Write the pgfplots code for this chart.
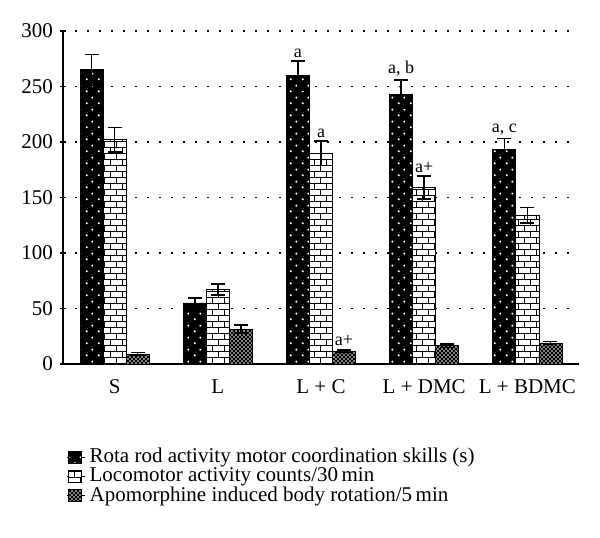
\documentclass[border=0pt]{standalone}
\usepackage{fontspec}
\setmainfont{Liberation Serif}
\usepackage{pgfplots}
\pgfplotsset{compat=1.18}
\usetikzlibrary{patterns}

\pgfdeclarepatternformonly{mywdots}{\pgfpointorigin}{\pgfpoint{6pt}{6pt}}{\pgfpoint{6pt}{6pt}}{%
  \pgfpathcircle{\pgfpoint{1.5pt}{1.5pt}}{0.6pt}%
  \pgfpathcircle{\pgfpoint{4.5pt}{4.5pt}}{0.6pt}%
  \pgfusepath{fill}}
\pgfdeclarepatternformonly{mybricks}{\pgfpoint{-0.3pt}{-0.3pt}}{\pgfpoint{6.3pt}{6.3pt}}{\pgfpoint{6pt}{6pt}}{%
  \pgfsetlinewidth{0.5pt}%
  \pgfpathmoveto{\pgfpoint{0pt}{0pt}}\pgfpathlineto{\pgfpoint{6pt}{0pt}}%
  \pgfpathmoveto{\pgfpoint{0pt}{3pt}}\pgfpathlineto{\pgfpoint{6pt}{3pt}}%
  \pgfpathmoveto{\pgfpoint{1pt}{0pt}}\pgfpathlineto{\pgfpoint{1pt}{3pt}}%
  \pgfpathmoveto{\pgfpoint{4pt}{3pt}}\pgfpathlineto{\pgfpoint{4pt}{6pt}}%
  \pgfusepath{stroke}}
\pgfdeclarepatternformonly{myxhatch}{\pgfpoint{-0.5pt}{-0.5pt}}{\pgfpoint{2.5pt}{2.5pt}}{\pgfpoint{2pt}{2pt}}{%
  \pgfsetlinewidth{0.65pt}%
  \pgfpathmoveto{\pgfpoint{0pt}{0pt}}\pgfpathlineto{\pgfpoint{2pt}{2pt}}%
  \pgfpathmoveto{\pgfpoint{0pt}{2pt}}\pgfpathlineto{\pgfpoint{2pt}{0pt}}%
  \pgfusepath{stroke}}

\pgfplotstableread{
x  rota  rotaerr  loco  locoerr  apo  apoerr
0  265   14       202   11       9    1.5
1  55    4.5      67    5        31.5 3.5
2  260   13       190   11       11.5 1.2
3  243   13       159   10.5     16.5 1.5
4  193   10       134   7        19   1.5
}\datatable

\begin{document}
\begin{tikzpicture}
\begin{axis}[
  at={(0,0)}, anchor=south west,
  scale only axis,
  width=258pt, height=166.5pt,
  ybar=0pt, bar width=0.223,
  xmin=-0.5, xmax=4.5,
  ymin=0, ymax=300,
  ytick={0,50,...,300},
  xtick={0,...,4},
  xticklabels={S, L, L + C, L + DMC, L + BDMC},
  tick label style={font=\fontsize{10.5}{12}\selectfont},
  x tick label style={yshift=-3pt},
  extra x ticks={0.5,1.5,2.5,3.5,4.5},
  extra x tick labels={},
  extra x tick style={major tick length=3pt, tick align=outside, xmajorgrids=false},
  tick align=outside,
  major tick length=3pt,
  tick style={black, line width=0.75pt},
  xtick style={draw=none},
  axis x line=bottom, axis y line=left,
  axis line style={-, line width=0.75pt},
  ymajorgrids,
  grid style={black, line width=0.8pt, dash pattern=on 0.8pt off 5.2pt},
  /pgf/number format/assume math mode=true,
  error bars/y dir=both, error bars/y explicit,
  error bars/error bar style={line width=0.75pt, black},
  error bars/error mark options={rotate=90, mark size=3.5pt, line width=0.75pt, black},
  legend style={at={(rel axis cs:-0.005,-0.228)}, anchor=north west, draw=none, fill=none,
    legend cell align=left, row sep=-3.1pt, font=\fontsize{10.5}{11}\selectfont},
  legend image code/.code={\path (0pt,0pt) -- (9pt,0pt);\draw[#1,draw=black,line width=0.3pt] (0.5pt,-2.9pt) rectangle (7pt,2.9pt);},
]
\addplot[draw=black, line width=0.4pt, fill=black, postaction={pattern=mywdots, pattern color=white}]
  table[x=x, y=rota, y error=rotaerr]{\datatable};
\addlegendentry{Rota rod activity motor coordination skills (s)}
\addplot[draw=black, line width=0.4pt, fill=white, postaction={pattern=mybricks, pattern color=black}]
  table[x=x, y=loco, y error=locoerr]{\datatable};
\addlegendentry{Locomotor activity counts/30\,min}
\addplot[draw=black, line width=0.4pt, fill=white, postaction={pattern=myxhatch, pattern color=black}]
  table[x=x, y=apo, y error=apoerr]{\datatable};
\addlegendentry{Apomorphine induced body rotation/5\,min}

\node[anchor=south, inner sep=1pt, font=\small] at (axis cs:1.777,274) {a};
\node[anchor=south, inner sep=1pt, font=\small] at (axis cs:2,202) {a};
\node[anchor=south, inner sep=1pt, font=\small] at (axis cs:2.223,14.5) {a+};
\node[anchor=south, inner sep=1pt, font=\small] at (axis cs:2.777,257) {a, b};
\node[anchor=south, inner sep=1pt, font=\small] at (axis cs:3,170.5) {a+};
\node[anchor=south, inner sep=1pt, font=\small] at (axis cs:3.777,204) {a, c};
\end{axis}
\pgfresetboundingbox
\path (-31.5pt,-86.5pt) rectangle (268.5pt,182pt);
\end{tikzpicture}
\end{document}
